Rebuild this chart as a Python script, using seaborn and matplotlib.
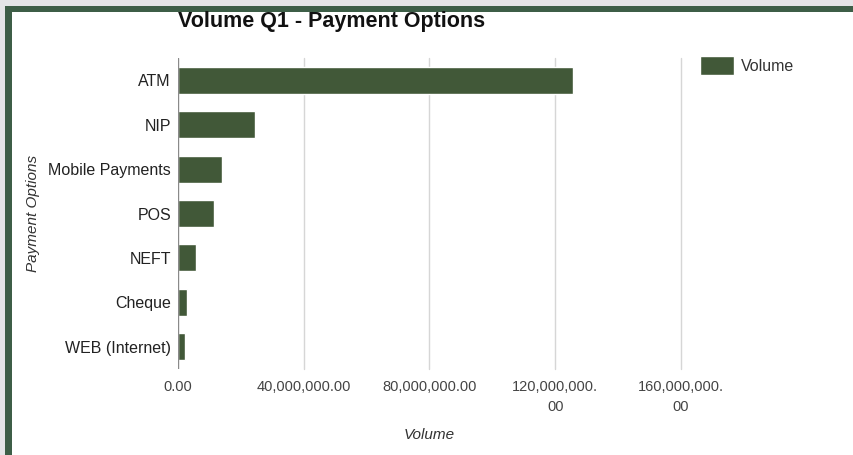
import matplotlib
matplotlib.use("Agg")
import matplotlib.pyplot as plt
import seaborn as sns
import pandas as pd
from matplotlib.patches import Rectangle
from matplotlib.ticker import FixedLocator

# Q1 volume per payment option
options = ["ATM", "NIP", "Mobile Payments", "POS", "NEFT", "Cheque", "WEB (Internet)"]
volume = [125500000, 24400000, 14100000, 11500000, 5700000, 3000000, 2300000]
xticks = [0, 40000000, 80000000, 120000000, 160000000]
xtick_labels = ["0.00", "40,000,000.00", "80,000,000.00", "120,000,000.\n00", "160,000,000.\n00"]

df = pd.DataFrame({"Payment Options": options, "Volume": volume})

BAR = "#3e5d33"
sns.set_style("white")
plt.rcParams["font.family"] = ["Liberation Sans", "DejaVu Sans"]

fig = plt.figure(figsize=(8.54, 4.55), dpi=100)
fig.patch.set_facecolor("#e4e5e7")
# frame: green band on top and left, white panel inside
fig.patches.append(Rectangle((5 / 854, 0), 1, 1 - 6 / 455, transform=fig.transFigure,
                             facecolor="#3d5e47", edgecolor="none", zorder=-2))
fig.patches.append(Rectangle((12 / 854, 0), 1, 1 - 12 / 455, transform=fig.transFigure,
                             facecolor="white", edgecolor="none", zorder=-1))

ax = fig.add_axes([178 / 854, (455 - 368.7) / 455, 503 / 854, 310.4 / 455])
ax.set_facecolor("none")
sns.barplot(data=df, x="Volume", y="Payment Options", color=BAR, width=0.61,
            label="Volume", ax=ax, zorder=2)

ax.set_xlim(0, 160000000)
ax.xaxis.set_major_locator(FixedLocator(xticks))
ax.set_xticklabels(xtick_labels, color="#444444", fontsize=10.5, linespacing=1.6)
ax.tick_params(axis="y", labelsize=11.5, colors="#222222", length=0, pad=5)
ax.tick_params(axis="x", length=0, pad=8)
for x in xticks[1:]:
    ax.axvline(x, color="#d6d6d6", lw=1, zorder=0, clip_on=False)
ax.axvline(0, color="#8a8a8a", lw=1, zorder=3)
for s in ax.spines.values():
    s.set_visible(False)

ax.set_xlabel("Volume", fontsize=11, style="italic", color="#333333", labelpad=10)
ax.set_ylabel("Payment Options", fontsize=11, style="italic", color="#333333", labelpad=6)

fig.text(178 / 854, 1 - 22 / 455, "Volume Q1 - Payment Options", fontsize=15.5,
         fontweight="bold", color="#111111", va="center", ha="left")

ax.legend(loc="upper left", bbox_to_anchor=(700 / 854, 1 - 56 / 455),
          bbox_transform=fig.transFigure, frameon=False, fontsize=11.5, borderpad=0,
          borderaxespad=0, handlelength=2.1, handleheight=1.5, handletextpad=0.45,
          labelcolor="#333333")

fig.savefig("out.png", dpi=100, facecolor=fig.get_facecolor())
